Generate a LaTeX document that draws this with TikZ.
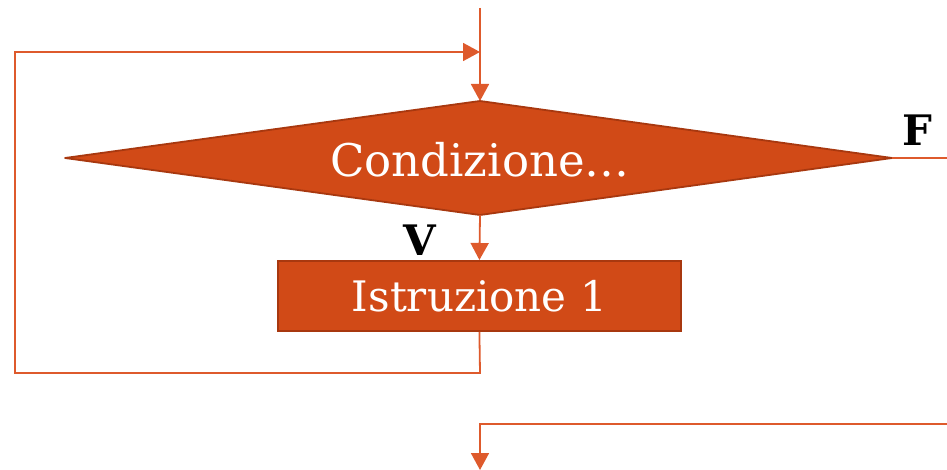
\documentclass[tikz,border=0pt]{standalone}
\usepackage{fontspec}
\setmainfont{DejaVu Serif}
\usetikzlibrary{shapes.geometric,arrows.meta}
\definecolor{boxfill}{HTML}{D14A17}
\definecolor{boxedge}{HTML}{A8380F}
\definecolor{linecol}{HTML}{DE5A2C}
\tikzset{
  flow/.style={draw=linecol,line width=1.8pt},
  arr/.style={flow,-{Triangle[length=17pt,width=18pt]}},
  lab/.style={font=\bfseries\fontsize{42}{42}\selectfont,text=black,inner sep=0pt},
}
\begin{document}
\begin{tikzpicture}[x=1pt,y=-1pt]
\useasboundingbox (0,0) rectangle (947,470);
% diamond
\coordinate (dt) at (480,101);
\coordinate (db) at (480,215);
\coordinate (dl) at (65,158);
\coordinate (dr) at (892,158);
\fill[boxfill,draw=boxedge,line width=1.8pt,line join=round] (dt) -- (dr) -- (db) -- (dl) -- cycle;
\node[text=white,font=\fontsize{45}{45}\selectfont] (cond) at (480,160) {Condizione…};
% rectangle
\node[draw=boxedge,fill=boxfill,line width=1.8pt,minimum width=403pt,minimum height=70pt,anchor=north west,inner sep=0pt,text=white,font=\fontsize{42}{42}\selectfont] (istr) at (277,260) {Istruzione 1};
% top entry
\coordinate (top) at (480,8);
\coordinate (join) at (480,52);
\draw[arr] (top) -- (dt);
% loop
\coordinate (lb) at (480,373);
\coordinate (lbl) at (15,373);
\coordinate (ltl) at (15,52);
\draw[arr] (istr.south) -- (lb) -- (lbl) -- (ltl) -- (join);
% V arrow
\draw[arr] (db) -- (istr.north);
\node[lab] (V) at (420,240) {V};
% F
\coordinate (fr) at (947,158);
\draw[flow] (dr) -- (fr);
\node[lab] (F) at (917,130) {F};
% exit
\coordinate (er) at (947,424);
\coordinate (ec) at (480,424);
\coordinate (eb) at (480,470);
\draw[arr] (er) -- (ec) -- (eb);
\end{tikzpicture}
\end{document}
